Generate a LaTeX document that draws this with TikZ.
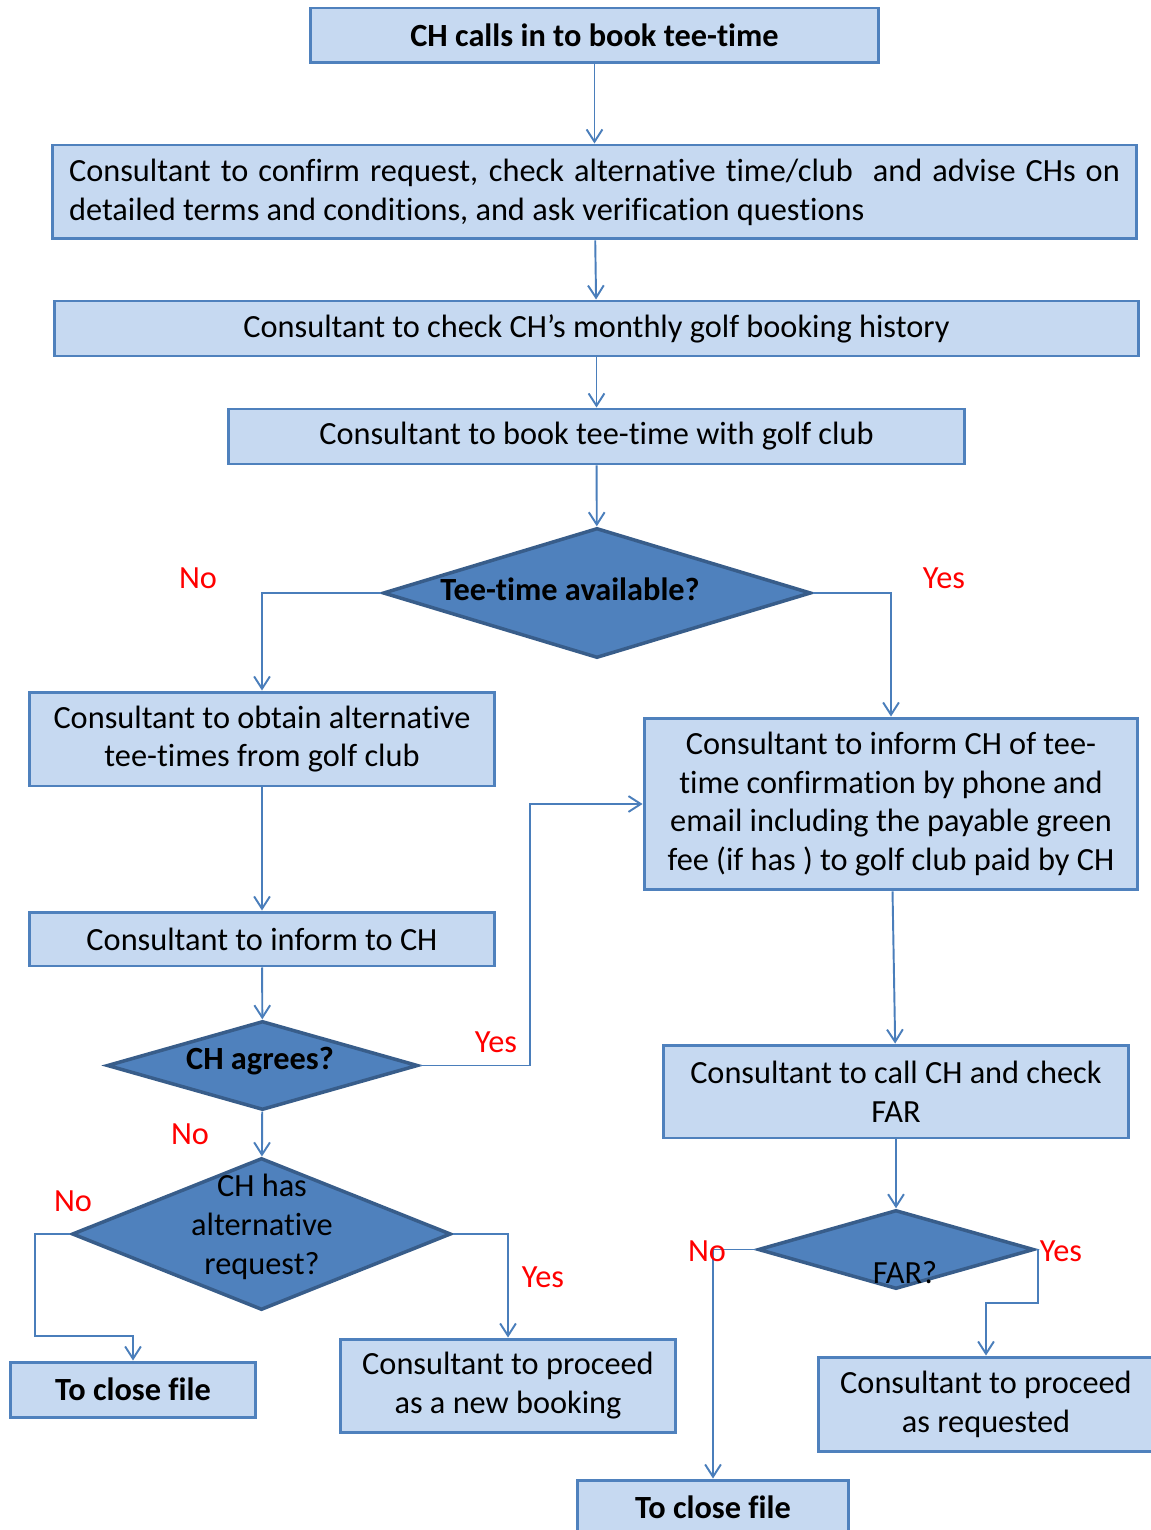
\documentclass[tikz,border=0pt]{standalone}
\usepackage{fontspec}
\setmainfont{Carlito}[Ligatures=NoCommon]
\usetikzlibrary{shapes.geometric,arrows.meta}

\definecolor{boxfill}{HTML}{C6D9F1}
\definecolor{boxline}{HTML}{4F81BD}
\definecolor{diafill}{HTML}{4F81BD}
\definecolor{dialine}{HTML}{385D8A}
\definecolor{arrline}{HTML}{4A7EBB}

\tikzset{
	procbox/.style={draw=boxline, fill=boxfill, line width=1.7pt, align=center, inner sep=0pt, font=\fontsize{18.4}{22.1}\selectfont},
	decision/.style={diamond, draw=dialine, fill=diafill, line width=2pt, inner sep=0pt},
	flowline/.style={draw=arrline, line width=1.1pt, -{Straight Barb[length=7pt,width=9pt]}},
	answer/.style={text=red, font=\fontsize{18.4}{22.1}\selectfont},
	dtext/.style={align=center, font=\fontsize{18.4}{22.1}\selectfont}
}

\begin{document}
\begin{tikzpicture}[x=0.02cm, y=-0.02cm]
	\useasboundingbox (0, 0) rectangle (1151, 1530);

	\node[procbox, minimum width=11.38cm, minimum height=1.1cm, font=\fontsize{18.4}{22.1}\selectfont\bfseries] (call) at (594.5, 35.5) {CH calls in to book tee-time};
	\node[procbox, minimum width=21.7cm, minimum height=1.88cm, text width=21.02cm, align=justify] (confirm) at (594.5, 192) {Consultant to confirm request, check alternative time/club~ and advise CHs on\linebreak detailed terms and conditions, and ask verification questions};
	\node[procbox, minimum width=21.7cm, minimum height=1.1cm] (history) at (596.5, 328.5) {Consultant to check CH’s monthly golf booking history};
	\node[procbox, minimum width=14.74cm, minimum height=1.1cm] (book) at (596.5, 436.5) {Consultant to book tee-time with golf club};
	\node[procbox, minimum width=9.32cm, minimum height=1.88cm] (obtain) at (262, 739) {Consultant to obtain alternative\\tee-times from golf club};
	\node[procbox, minimum width=9.88cm, minimum height=3.44cm] (inform) at (891, 804) {Consultant to inform CH of tee-\\time confirmation by phone and\\email including the payable green\\fee (if has ) to golf club paid by CH};
	\node[procbox, minimum width=9.32cm, minimum height=1.08cm] (tell) at (262, 939) {Consultant to inform to CH};
	\node[procbox, minimum width=9.32cm, minimum height=1.86cm] (far) at (896, 1091.5) {Consultant to call CH and check\\FAR};
	\node[procbox, minimum width=4.92cm, minimum height=1.1cm, font=\fontsize{18.4}{22.1}\selectfont\bfseries] (closeA) at (133, 1389.5) {To close file};
	\node[procbox, minimum width=6.72cm, minimum height=1.86cm] (newbook) at (508, 1385.5) {Consultant to proceed\\as a new booking};
	\node[procbox, minimum width=6.72cm, minimum height=1.88cm] (proceed) at (986, 1404) {Consultant to proceed\\as requested};
	\node[procbox, minimum width=5.44cm, minimum height=1.1cm, font=\fontsize{18.4}{22.1}\selectfont\bfseries] (closeB) at (713, 1507.5) {To close file};

	\node[decision, minimum width=8.56cm, minimum height=2.6cm] (avail) at (597, 593) {};
	\node[decision, minimum width=6.22cm, minimum height=1.78cm] (agree) at (262.5, 1065.5) {};
	\node[decision, minimum width=7.58cm, minimum height=3.04cm] (altreq) at (261.5, 1234) {};
	\node[decision, minimum width=5.52cm, minimum height=1.58cm] (farq) at (896, 1249.5) {};

	\node[dtext, font=\fontsize{18.4}{22.1}\selectfont\bfseries] (availT) at (570, 589) {Tee-time available?};
	\node[dtext, font=\fontsize{18.4}{22.1}\selectfont\bfseries] (agreeT) at (260, 1061) {CH agrees?};
	\node[dtext] (altreqT) at (262, 1227) {CH has\\alternative\\request?};
	\node[dtext] (farqT) at (905, 1273) {FAR?};

	\coordinate (jogA) at (530, 1065.5);
	\coordinate (jogB) at (35, 1336);
	\coordinate (jogC) at (1038, 1303);

	\draw[flowline] (call) -- (confirm);
	\draw[flowline] (confirm) -- (history);
	\draw[flowline] (history) -- (book);
	\draw[flowline] (book) -- (avail);
	\draw[flowline] (avail.west) -| (obtain.north);
	\draw[flowline] (avail.east) -| (inform.north);
	\draw[flowline] (obtain) -- (tell);
	\draw[flowline] (tell) -- (agree);
	\draw[flowline] (agree.east) -- (jogA) |- (inform.west);
	\draw[flowline] (agree) -- (altreq);
	\draw[flowline] (inform) -- (far);
	\draw[flowline] (far) -- (farq);
	\draw[flowline] (altreq.west) -| (jogB) -| (closeA.north);
	\draw[flowline] (altreq.east) -| (newbook.north);
	\draw[flowline] (farq.west) -| (closeB.north);
	\draw[flowline] (farq.east) -| (jogC) -| (proceed.north);

	\node[answer] (noA) at (198, 578) {No};
	\node[answer] (yesA) at (944, 578) {Yes};
	\node[answer] (yesB) at (496, 1042) {Yes};
	\node[answer] (noB) at (190, 1134) {No};
	\node[answer] (noC) at (73, 1201) {No};
	\node[answer] (yesC) at (543, 1277) {Yes};
	\node[answer] (noD) at (707, 1251) {No};
	\node[answer] (yesD) at (1061, 1251) {Yes};

\end{tikzpicture}
\end{document}
